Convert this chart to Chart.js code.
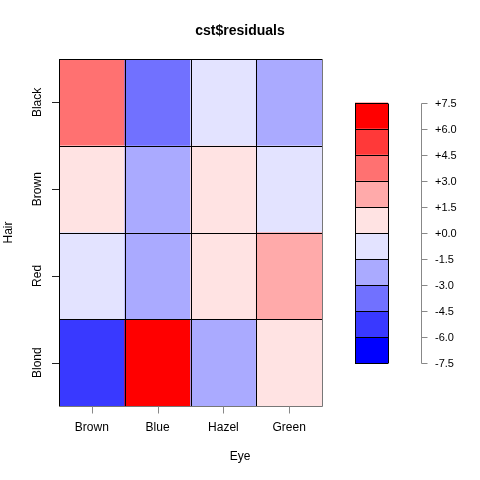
<!DOCTYPE html>
<html>
<head>
<meta charset="utf-8">
<script src="https://cdn.jsdelivr.net/npm/chart.js@4/dist/chart.umd.min.js"></script>
<style>
  html, body { margin: 0; padding: 0; background: #ffffff; }
  #wrap { width: 480px; height: 480px; position: relative; }
</style>
</head>
<body>
<div id="wrap"><canvas id="c" width="480" height="480"></canvas></div>
<script>
// ---- data ----
const eyeLabels = ['Brown', 'Blue', 'Hazel', 'Green'];
const hairLabels = ['Black', 'Brown', 'Red', 'Blond'];   // top to bottom
const resBlack = [4.40, -3.07, -0.48, -1.95];
const resBrown = [1.23, -1.95, 1.35, -0.35];
const resRed   = [-0.07, -1.73, 0.85, 2.28];
const resBlond = [-5.85, 7.05, -2.23, 0.61];
const legendBreaks = [-7.5, -6.0, -4.5, -3.0, -1.5, 0.0, 1.5, 3.0, 4.5, 6.0, 7.5];
const legendLabels = ['-7.5', '-6.0', '-4.5', '-3.0', '-1.5', '+0.0', '+1.5', '+3.0', '+4.5', '+6.0', '+7.5'];
const palette = ['#0000FF', '#3939FF', '#7171FF', '#AAAAFF', '#E3E3FF',
                 '#FFE3E3', '#FFAAAA', '#FF7171', '#FF3939', '#FF0000'];

function colorFor(v) {
  for (let i = 0; i < legendBreaks.length - 1; i++) {
    if (v >= legendBreaks[i] && v < legendBreaks[i + 1]) return palette[i];
  }
  return v < legendBreaks[0] ? palette[0] : palette[palette.length - 1];
}

// stacked bottom-to-top: Blond, Red, Brown, Black
const rows = [resBlond, resRed, resBrown, resBlack];
const rowNames = ['Blond', 'Red', 'Brown', 'Black'];
const datasets = rows.map((r, i) => ({
  label: rowNames[i],
  data: r.map(() => 1),
  backgroundColor: r.map(colorFor),
  borderWidth: 0,
  barPercentage: 1.0,
  categoryPercentage: 1.0
}));

const FONT = '"Liberation Sans", Arial, Helvetica, sans-serif';

const rStyle = {
  id: 'rStyle',
  afterDatasetsDraw(chart) {
    const ctx = chart.ctx;
    const xs = chart.scales.x, ys = chart.scales.y;
    const a = chart.chartArea;
    ctx.save();
    // cell borders
    ctx.strokeStyle = '#000000';
    ctx.lineWidth = 1;
    ctx.beginPath();
    for (let k = 0; k < eyeLabels.length; k++) {
      const px = Math.round(xs.getPixelForValue(k - 0.5)) + 0.5;
      ctx.moveTo(px, a.top); ctx.lineTo(px, a.bottom);
    }
    for (let k = 1; k <= hairLabels.length; k++) {
      const py = Math.round(ys.getPixelForValue(k)) + 0.5;
      ctx.moveTo(a.left, py); ctx.lineTo(a.right, py);
    }
    ctx.stroke();
    // outer frame right/bottom (gray in reference)
    ctx.strokeStyle = '#777777';
    ctx.beginPath();
    const rx = Math.round(xs.getPixelForValue(eyeLabels.length - 0.5)) + 0.5;
    const by = Math.round(ys.getPixelForValue(0)) + 0.5;
    ctx.moveTo(rx, a.top); ctx.lineTo(rx, by);
    ctx.moveTo(a.left, by); ctx.lineTo(rx, by);
    ctx.stroke();
    // x ticks (gray) and labels
    ctx.strokeStyle = '#888888';
    ctx.beginPath();
    eyeLabels.forEach((l, i) => {
      const px = Math.round(xs.getPixelForValue(i)) + 0.5;
      ctx.moveTo(px, by); ctx.lineTo(px, by + 7);
    });
    ctx.stroke();
    ctx.fillStyle = '#000000';
    ctx.font = '12px ' + FONT;
    ctx.textAlign = 'center';
    ctx.textBaseline = 'middle';
    eyeLabels.forEach((l, i) => {
      ctx.fillText(l, xs.getPixelForValue(i), 428);
    });
    // y ticks (dark) and rotated labels
    ctx.strokeStyle = '#222222';
    ctx.beginPath();
    rowNames.forEach((l, i) => {
      const py = Math.round(ys.getPixelForValue(i + 0.5)) + 0.5;
      ctx.moveTo(a.left - 7, py); ctx.lineTo(a.left, py);
    });
    ctx.stroke();
    rowNames.forEach((l, i) => {
      const py = ys.getPixelForValue(i + 0.5);
      ctx.save();
      ctx.translate(38, py);
      ctx.rotate(-Math.PI / 2);
      ctx.fillText(l, 0, 0);
      ctx.restore();
    });
    // axis titles
    ctx.fillText('Eye', 240, 457);
    ctx.save();
    ctx.translate(8.5, (a.top + a.bottom) / 2);
    ctx.rotate(-Math.PI / 2);
    ctx.fillText('Hair', 0, 0);
    ctx.restore();
    // main title
    ctx.font = 'bold 14px ' + FONT;
    ctx.fillText('cst$residuals', 240, 31);

    // colour legend
    const lgL = 355, lgR = 388, lgTop = 102.7, lgBot = 363.3;
    const vmin = legendBreaks[0], vmax = legendBreaks[legendBreaks.length - 1];
    const toY = v => lgBot - (v - vmin) / (vmax - vmin) * (lgBot - lgTop);
    for (let i = 0; i < palette.length; i++) {
      const y1 = toY(legendBreaks[i + 1]), y0 = toY(legendBreaks[i]);
      ctx.fillStyle = palette[i];
      ctx.fillRect(lgL, y1, lgR - lgL, y0 - y1);
    }
    ctx.strokeStyle = '#000000';
    ctx.beginPath();
    for (let i = 0; i < legendBreaks.length; i++) {
      const y = Math.round(toY(legendBreaks[i])) + 0.5;
      ctx.moveTo(lgL, y); ctx.lineTo(lgR, y);
    }
    ctx.moveTo(lgL + 0.5, Math.round(lgTop) + 0.5); ctx.lineTo(lgL + 0.5, Math.round(lgBot) + 0.5);
    ctx.moveTo(lgR + 0.5, Math.round(lgTop) + 0.5); ctx.lineTo(lgR + 0.5, Math.round(lgBot) + 0.5);
    ctx.stroke();
    // legend axis
    ctx.strokeStyle = '#888888';
    ctx.beginPath();
    ctx.moveTo(421.5, Math.round(lgTop) + 0.5); ctx.lineTo(421.5, Math.round(lgBot) + 0.5);
    legendBreaks.forEach(b => {
      const y = Math.round(toY(b)) + 0.5;
      ctx.moveTo(421.5, y); ctx.lineTo(427.5, y);
    });
    ctx.stroke();
    ctx.fillStyle = '#000000';
    ctx.font = '11px ' + FONT;
    ctx.textAlign = 'left';
    legendBreaks.forEach((b, i) => {
      ctx.fillText(legendLabels[i], 435, toY(b) + 1);
    });
    ctx.restore();
  }
};

new Chart(document.getElementById('c'), {
  type: 'bar',
  data: { labels: eyeLabels, datasets },
  options: {
    responsive: false,
    animation: false,
    layout: { padding: { left: 59, top: 59, right: 158, bottom: 74 } },
    plugins: { legend: { display: false }, title: { display: false }, tooltip: { enabled: false } },
    scales: {
      x: { display: false, stacked: true, offset: true },
      y: { display: false, stacked: true, min: 0, max: 4 }
    }
  },
  plugins: [rStyle]
});
</script>
</body>
</html>
